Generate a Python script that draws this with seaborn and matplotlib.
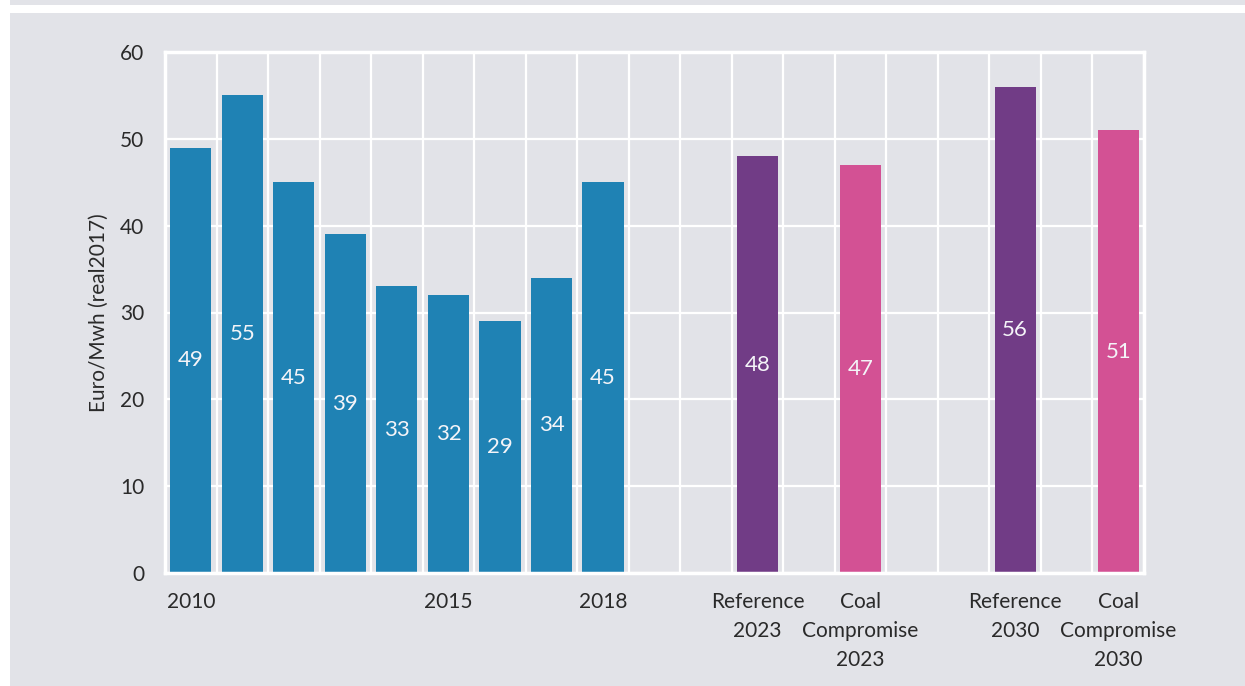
import matplotlib
matplotlib.use("Agg")
import matplotlib.pyplot as plt
import matplotlib.patches as mpatches
import seaborn as sns
import pandas as pd
import numpy as np

# ---- data ----
slots = ["2010", "2011", "2012", "2013", "2014", "2015", "2016", "2017", "2018",
         "gap1", "gap2", "Reference\n2023", "gap3", "Coal\nCompromise\n2023",
         "gap4", "gap5", "Reference\n2030", "gap6", "Coal\nCompromise\n2030"]
categories = ["2010", "2011", "2012", "2013", "2014", "2015", "2016", "2017", "2018",
              "Reference\n2023", "Coal\nCompromise\n2023",
              "Reference\n2030", "Coal\nCompromise\n2030"]
values = [49, 55, 45, 39, 33, 32, 29, 34, 45, 48, 47, 56, 51]
groups = ["Historic"] * 9 + ["Reference", "Coal Compromise", "Reference", "Coal Compromise"]
tick_labels = ["2010", "", "", "", "", "2015", "", "", "2018",
               "", "", "Reference\n2023", "", "Coal\nCompromise\n2023",
               "", "", "Reference\n2030", "", "Coal\nCompromise\n2030"]
palette = {"Historic": "#1f82b4", "Reference": "#713c86", "Coal Compromise": "#d35194"}

df = pd.DataFrame({"slot": categories, "value": values, "group": groups})

grey = "#e2e3e8"
sns.set_theme(style="darkgrid", rc={"axes.facecolor": grey})
plt.rcParams["font.family"] = ["Lato", "DejaVu Sans"]

fig = plt.figure(figsize=(12.45, 6.86), dpi=100, facecolor="white")
fig.patches.append(mpatches.Rectangle((10 / 1245, 0), 1 - 10 / 1245, 1 - 13 / 686,
                                      transform=fig.transFigure, facecolor=grey,
                                      edgecolor="none", zorder=-10))
fig.patches.append(mpatches.Rectangle((10 / 1245, 1 - 5 / 686), 1 - 10 / 1245, 5 / 686,
                                      transform=fig.transFigure, facecolor=grey,
                                      edgecolor="none", zorder=-10))

ax = fig.add_axes([165 / 1245, 1 - 573 / 686, (1144 - 165) / 1245, (573 - 52) / 686])
ax.set_facecolor(grey)

sns.barplot(data=df, x="slot", y="value", hue="group", order=slots,
            palette=palette, dodge=False, width=0.8, legend=False, ax=ax,
            saturation=1, edgecolor="none")

for c in ax.containers:
    ax.bar_label(c, labels=[f"{int(v)}" if not np.isnan(v) else "" for v in c.datavalues],
                 label_type="center", color="#f4f4f8", fontsize=16)

ax.set_ylim(0, 60)
ax.set_yticks(range(0, 61, 10))
ax.set_xlim(-0.5, len(slots) - 0.5)
ax.set_xticks(range(len(slots)))
ax.set_xticklabels(tick_labels, fontsize=15, color="#2a2a2a", va="top", ha="center",
                   linespacing=1.55)
ax.set_xticks(np.arange(-0.5, len(slots), 1.0), minor=True)
ax.grid(False)
ax.grid(True, axis="x", which="minor", color="white", linewidth=1.6)
ax.grid(True, axis="y", which="major", color="white", linewidth=1.6)
ax.set_axisbelow(True)
ax.tick_params(axis="x", which="both", length=0, pad=14)
ax.tick_params(axis="y", length=0, pad=15, labelsize=15, labelcolor="#2a2a2a")
for s in ax.spines.values():
    s.set_visible(True)
    s.set_color("white")
    s.set_linewidth(2.5)
ax.set_xlabel("")
ax.set_ylabel("Euro/Mwh (real2017)", fontsize=15, color="#2a2a2a", labelpad=8)

fig.savefig("out.png", dpi=100, facecolor="white")
